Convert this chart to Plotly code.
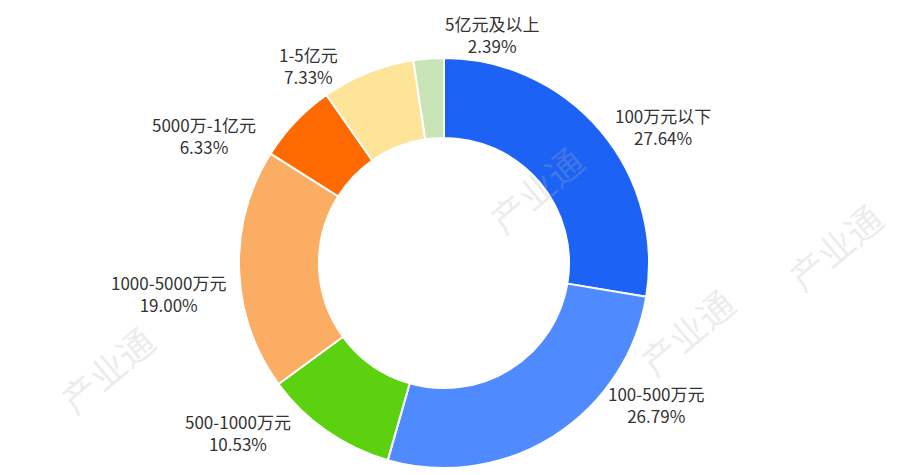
import plotly.graph_objects as go

labels = ["100万元以下", "100-500万元", "500-1000万元", "1000-5000万元", "5000万-1亿元", "1-5亿元", "5亿元及以上"]
values = [27.64, 26.79, 10.53, 19.00, 6.33, 7.33, 2.39]
colors = ["#1b62f5", "#4f8bff", "#5bd10f", "#fbad63", "#ff6a00", "#fde498", "#c9e4b6"]

# label block centres in pixels (x, y from top)
label_pos = [(655, 118), (648, 396), (230, 424), (160, 285), (196, 127), (300, 58), (484, 26)]

W, H = 924, 475

fig = go.Figure(go.Pie(
    labels=labels,
    values=values,
    hole=0.61,
    sort=False,
    direction="clockwise",
    rotation=0,
    marker=dict(colors=colors, line=dict(color="white", width=2)),
    textinfo="none",
    hoverinfo="label+percent",
    showlegend=False,
    domain=dict(x=[231 / W, 641 / W], y=[1 - 460 / H, 1 - 50 / H]),
))

for lab, val, (px, py) in zip(labels, values, label_pos):
    fig.add_annotation(
        x=px / W, y=1 - py / H, xref="paper", yref="paper",
        text=f"{lab}<br>{val:.2f}%", showarrow=False,
        xanchor="center", yanchor="middle",
        font=dict(size=17, color="#333333"),
    )

# faint watermark
for wx, wy in [(0.57, 0.62), (0.8, 0.2), (0.96, 0.5), (0.04, 0.12)]:
    fig.add_annotation(
        x=wx, y=wy, xref="paper", yref="paper", text="产业通", showarrow=False,
        textangle=-40, font=dict(size=36, color="rgba(180,180,180,0.25)"),
    )

fig.update_layout(
    width=W, height=H,
    margin=dict(l=0, r=0, t=0, b=0),
    paper_bgcolor="white",
    font=dict(family="Noto Sans CJK SC"),
)

fig.write_html("out.html")
